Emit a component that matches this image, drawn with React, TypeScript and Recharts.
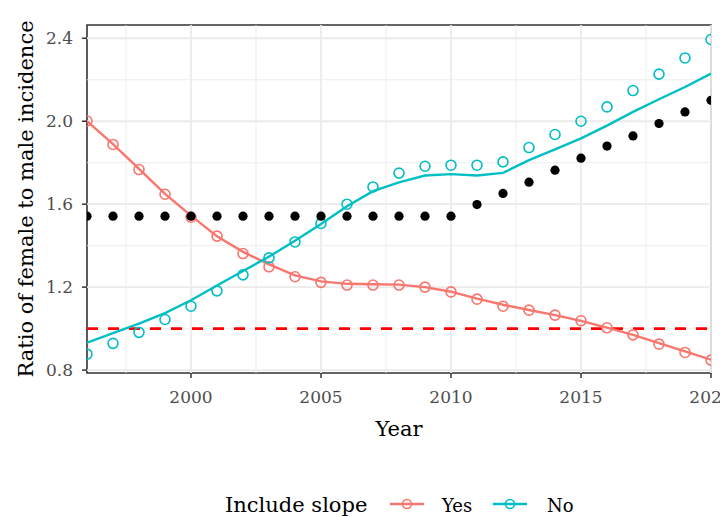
import React from "react";
import {
  LineChart,
  Line,
  XAxis,
  YAxis,
  ReferenceLine,
  ReferenceArea,
} from "recharts";

const years = [
  1996, 1997, 1998, 1999, 2000, 2001, 2002, 2003, 2004, 2005, 2006, 2007, 2008,
  2009, 2010, 2011, 2012, 2013, 2014, 2015, 2016, 2017, 2018, 2019, 2020,
];

const yesObserved = [
  2.001, 1.888, 1.767, 1.648, 1.537, 1.446, 1.362, 1.298, 1.25, 1.223, 1.21,
  1.21, 1.21, 1.2, 1.177, 1.142, 1.108, 1.089, 1.065, 1.038, 1.004, 0.97, 0.925,
  0.885, 0.848,
];
const yesFitted = [
  2.0, 1.89, 1.77, 1.65, 1.545, 1.445, 1.37, 1.31, 1.257, 1.228, 1.216, 1.214,
  1.212, 1.2, 1.178, 1.145, 1.115, 1.09, 1.065, 1.037, 1.005, 0.97, 0.93, 0.89,
  0.85,
];
const noObserved = [
  0.877, 0.929, 0.982, 1.044, 1.108, 1.182, 1.259, 1.341, 1.418, 1.507, 1.6,
  1.683, 1.75, 1.783, 1.788, 1.788, 1.804, 1.873, 1.936, 2.0, 2.069, 2.148,
  2.227, 2.305, 2.394,
];
const noFitted = [
  0.932, 0.978, 1.024, 1.075, 1.137, 1.208, 1.278, 1.347, 1.424, 1.505, 1.59,
  1.663, 1.705, 1.738, 1.745, 1.738, 1.751, 1.812, 1.864, 1.917, 1.979, 2.045,
  2.106, 2.165, 2.23,
];
const reference = [
  1.542, 1.542, 1.542, 1.542, 1.542, 1.542, 1.542, 1.542, 1.542, 1.542, 1.542,
  1.542, 1.542, 1.542, 1.542, 1.598, 1.652, 1.706, 1.764, 1.822, 1.88, 1.929,
  1.989, 2.045, 2.101,
];

const xMajor = [2000, 2005, 2010, 2015, 2020];
const xMinor = [1997.5, 2002.5, 2007.5, 2012.5, 2017.5];
const yMajor = [0.8, 1.2, 1.6, 2.0, 2.4];
const yMinor = [1.0, 1.4, 1.8, 2.2];
const xDomain = [1996, 2020];
const yDomain = [0.786, 2.464];
const parityLine = 1;

const legendTitle = "Include slope";
const seriesNames = ["Yes", "No"];
const xTitle = "Year";
const yTitle = "Ratio of female to male incidence";

const YES = "#F8766D";
const NO = "#00BFC4";
const FONT = "'DejaVu Serif', serif";

const data = years.map((year, i) => ({
  year,
  yesObs: yesObserved[i],
  yesFit: yesFitted[i],
  noObs: noObserved[i],
  noFit: noFitted[i],
  ref: reference[i],
}));

const W = 720;
const H = 509;

const tickStyle = { fill: "#4d4d4d", fontSize: 17, fontFamily: FONT };

function XTitle(props: any) {
  const vb = props.viewBox || { x: 79, y: 365, width: 624, height: 144 };
  return (
    <text
      x={vb.x + vb.width / 2}
      y={vb.y + 63}
      textAnchor="middle"
      fontSize={21}
      fontFamily={FONT}
      fill="#000"
    >
      {xTitle}
    </text>
  );
}

function YTitle(props: any) {
  const vb = props.viewBox || { x: 0, y: 17, width: 79, height: 348 };
  const cx = vb.x + 25;
  const cy = vb.y + vb.height / 2;
  return (
    <text
      x={cx}
      y={cy}
      transform={`rotate(-90 ${cx} ${cy})`}
      textAnchor="middle"
      fontSize={21}
      fontFamily={FONT}
      fill="#000"
    >
      {yTitle}
    </text>
  );
}

export default function App() {
  return (
    <div style={{ position: "relative", width: W, height: H, fontFamily: FONT }}>
      <LineChart
        width={W}
        height={H}
        data={data}
        margin={{ top: 17, right: 17, left: 0, bottom: 0 }}
      >
        <XAxis
          dataKey="year"
          type="number"
          domain={xDomain}
          ticks={xMajor}
          allowDataOverflow
          axisLine={false}
          tickLine={{ stroke: "#333333", strokeWidth: 1.5 }}
          tickSize={5}
          tickMargin={13}
          tick={tickStyle}
          height={144}
          interval={0}
          label={<XTitle />}
        />
        <YAxis
          type="number"
          domain={yDomain}
          ticks={yMajor}
          allowDataOverflow
          axisLine={false}
          tickLine={{ stroke: "#333333", strokeWidth: 1.5 }}
          tickSize={5}
          tickMargin={9}
          tick={tickStyle}
          width={79}
          interval={0}
          tickFormatter={(v: number) => v.toFixed(1)}
          label={<YTitle />}
        />
        {yMinor.map((v) => (
          <ReferenceLine key={"ym" + v} y={v} stroke="#ebebeb" strokeWidth={0.9} />
        ))}
        {xMinor.map((v) => (
          <ReferenceLine key={"xm" + v} x={v} stroke="#ebebeb" strokeWidth={0.9} />
        ))}
        {yMajor.map((v) => (
          <ReferenceLine key={"yM" + v} y={v} stroke="#ebebeb" strokeWidth={1.8} />
        ))}
        {xMajor.map((v) => (
          <ReferenceLine key={"xM" + v} x={v} stroke="#ebebeb" strokeWidth={1.8} />
        ))}
        <ReferenceLine
          y={parityLine}
          stroke="#FF0000"
          strokeWidth={2.8}
          strokeDasharray="11 10"
        />
        <Line
          dataKey="yesFit"
          type="linear"
          stroke={YES}
          strokeWidth={2.4}
          dot={false}
          activeDot={false}
          isAnimationActive={false}
        />
        <Line
          dataKey="noFit"
          type="linear"
          stroke={NO}
          strokeWidth={2.4}
          dot={false}
          activeDot={false}
          isAnimationActive={false}
        />
        <Line
          dataKey="yesObs"
          stroke="none"
          dot={{ r: 5, stroke: YES, strokeWidth: 1.6, fill: "none" }}
          activeDot={false}
          isAnimationActive={false}
        />
        <Line
          dataKey="noObs"
          stroke="none"
          dot={{ r: 5, stroke: NO, strokeWidth: 1.6, fill: "none" }}
          activeDot={false}
          isAnimationActive={false}
        />
        <Line
          dataKey="ref"
          stroke="none"
          dot={{ r: 4.6, stroke: "none", fill: "#000" }}
          activeDot={false}
          isAnimationActive={false}
        />
        <ReferenceArea
          x1={xDomain[0]}
          x2={xDomain[1]}
          y1={yDomain[0]}
          y2={yDomain[1]}
          fill="none"
          fillOpacity={0}
          stroke="#333333"
          strokeWidth={1.6}
        />
      </LineChart>
      <svg
        width={W}
        height={H}
        style={{ position: "absolute", left: 0, top: 0, pointerEvents: "none" }}
      >
        <text x={217} y={504} fontSize={21} fontFamily={FONT} fill="#000">
          {legendTitle}
        </text>
        <line x1={382} x2={416} y1={496} y2={496} stroke={YES} strokeWidth={2.4} />
        <circle cx={399} cy={496} r={4.5} stroke={YES} strokeWidth={1.6} fill="none" />
        <text x={434} y={504} fontSize={18} fontFamily={FONT} fill="#000">
          {seriesNames[0]}
        </text>
        <line x1={485} x2={519} y1={496} y2={496} stroke={NO} strokeWidth={2.4} />
        <circle cx={502} cy={496} r={4.5} stroke={NO} strokeWidth={1.6} fill="none" />
        <text x={539} y={504} fontSize={18} fontFamily={FONT} fill="#000">
          {seriesNames[1]}
        </text>
      </svg>
    </div>
  );
}
